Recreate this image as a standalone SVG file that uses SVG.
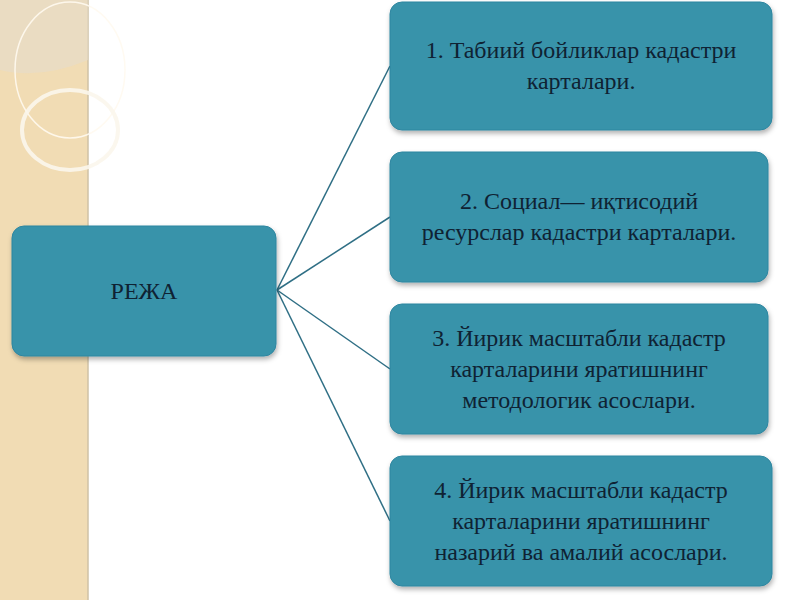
<svg xmlns="http://www.w3.org/2000/svg" width="800" height="600" viewBox="0 0 800 600">
<style>
.box{fill:#3893aa;stroke:#2f86a0;stroke-width:1}
.t{font-family:"Liberation Serif",serif;font-size:24px;fill:#0f2233;text-anchor:middle}
.c{stroke:#2f6f85;stroke-width:1.5;fill:none}
</style>
<defs><filter id="sh" x="-10%" y="-10%" width="120%" height="130%"><feDropShadow dx="1" dy="3" stdDeviation="2.5" flood-color="#000" flood-opacity="0.3"/></filter></defs>
<rect width="800" height="600" fill="#fff"/>
<rect width="88" height="600" fill="#f1dcb4"/>
<line x1="88" y1="0" x2="88" y2="600" stroke="#cfc2a6" stroke-width="1.5"/>
<path d="M0 0 H88 V60 Q40 80 0 70 Z" fill="#e6dccb" opacity="0.6"/>
<ellipse cx="70" cy="70" rx="55" ry="68" fill="none" stroke="#fffaf0" stroke-width="1.5" opacity="0.9"/>
<ellipse cx="70" cy="130" rx="48" ry="40" fill="none" stroke="#fbf6ec" stroke-width="4" opacity="0.9"/>
<g id="connectors">
<line class="c" x1="277" y1="290" x2="390" y2="66"/>
<line class="c" x1="277" y1="290" x2="390" y2="217"/>
<line class="c" x1="277" y1="290" x2="390" y2="369"/>
<line class="c" x1="277" y1="290" x2="390" y2="521"/>
</g>
<g id="n0"><rect class="box" filter="url(#sh)" x="12" y="226" width="264" height="130" rx="12"/><text class="t" x="144" y="299">РЕЖА</text></g>
<g id="n1"><rect class="box" filter="url(#sh)" x="390" y="2" width="382" height="128" rx="12"/><text class="t" x="581" y="58">1. Табиий бойликлар кадастри</text><text class="t" x="581" y="89">карталари.</text></g>
<g id="n2"><rect class="box" filter="url(#sh)" x="390" y="152" width="378" height="130" rx="12"/><text class="t" x="579" y="209">2. Социал— иқтисодий</text><text class="t" x="579" y="240">ресурслар кадастри карталари.</text></g>
<g id="n3"><rect class="box" filter="url(#sh)" x="390" y="304" width="378" height="130" rx="12"/><text class="t" x="579" y="346">3. Йирик масштабли кадастр</text><text class="t" x="579" y="377">карталарини яратишнинг</text><text class="t" x="579" y="408">методологик асослари.</text></g>
<g id="n4"><rect class="box" filter="url(#sh)" x="390" y="456" width="382" height="130" rx="12"/><text class="t" x="581" y="498">4. Йирик масштабли кадастр</text><text class="t" x="581" y="529">карталарини яратишнинг</text><text class="t" x="581" y="560">назарий ва амалий асослари.</text></g>
</svg>
